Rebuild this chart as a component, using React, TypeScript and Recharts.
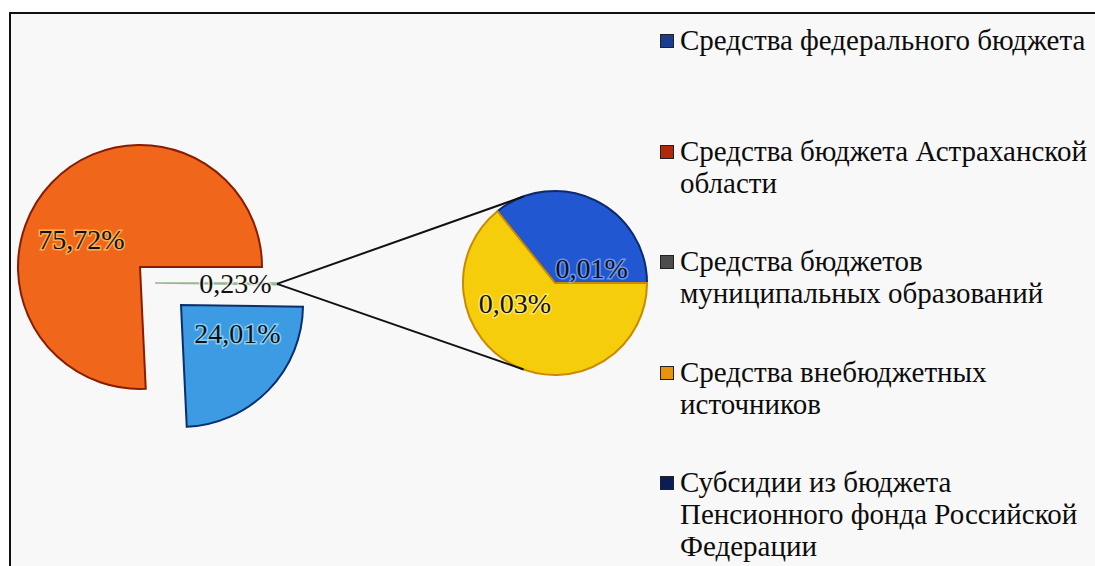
import React from 'react';
import { PieChart, Pie, Cell, Legend } from 'recharts';

// main pie: regional budget, federal budget, the rest (split out in the small pie)
const mainNames = ['Средства бюджета Астраханской области', 'Средства федерального бюджета', 'Прочие'];
const mainValues = [75.72, 24.01, 0.23];
const mainLabels = ['75,72%', '24,01%', '0,23%'];

// small pie (share of "Прочие")
const subNames = ['Средства бюджетов муниципальных образований', 'Средства внебюджетных источников'];
const subValues = [0.0143, 0.0257];
const subLabels = ['0,01%', '0,03%'];

const legendLines = [
  ['Средства федерального бюджета'],
  ['Средства бюджета Астраханской', 'области'],
  ['Средства бюджетов', 'муниципальных образований'],
  ['Средства внебюджетных', 'источников'],
  ['Субсидии из бюджета', 'Пенсионного фонда Российской', 'Федерации'],
];
const legendColors = ['#1c3d8f', '#b3280c', '#4d4d4d', '#e8920e', '#0c1c55'];

const mainData = mainNames.map((name, i) => ({ name, value: mainValues[i] }));
const subData = subNames.map((name, i) => ({ name, value: subValues[i] }));

const mainFill = ['#f0661b', '#3c9be2', '#b9cdb4'];
const mainStroke = ['#8a1c02', '#0a2e6e', '#9ab595'];
const subFill = ['#2257d2', '#f6cd0b'];
const subStroke = ['#0d2a70', '#c98a00'];
const glowMain = ['#ffd060', '#a8e4ff', '#f8f8f8'];
const glowSub = ['#8fb4ff', '#fff08a'];

const MAIN_R = 122;
// exploded slices each get their own centre
const mainCenters = [
  { x: 140, y: 267 },
  { x: 181, y: 305 },
  { x: 155, y: 283 },
];
const SUB = { x: 555, y: 283, r: 92 };
const mainLabelPos = [
  { a: 155, f: 0.53 },
  { a: 333, f: 0.52 },
  { a: 0, f: 0.66 },
];
const subLabelPos = [
  { a: 22, f: 0.43 },
  { a: 207, f: 0.49 },
];

const RAD = Math.PI / 180;
const polar = (cx: number, cy: number, r: number, a: number) => ({
  x: cx + r * Math.cos(-a * RAD),
  y: cy + r * Math.sin(-a * RAD),
});

const font = '"Liberation Serif", "DejaVu Serif", serif';

const labelText = (x: number, y: number, txt: string, glow: string) => (
  <text
    x={x}
    y={y}
    textAnchor="middle"
    dominantBaseline="central"
    fontFamily={font}
    fontSize={28}
    fill="#101010"
    stroke={glow}
    strokeWidth={3}
    strokeOpacity={0.7}
    paintOrder="stroke"
  >
    {txt}
  </text>
);

const makeMainLabel = (k: number) => (p: any) => {
  if (p.index !== k) return null;
  const pos = polar(p.cx, p.cy, p.outerRadius * mainLabelPos[k].f, mainLabelPos[k].a);
  const txt = labelText(pos.x, pos.y, mainLabels[k], glowMain[k]);
  if (k !== 2) return txt;
  // connector lines to the small pie
  const tip = polar(p.cx, p.cy, p.outerRadius, p.midAngle);
  const up = polar(SUB.x, SUB.y, SUB.r, 110);
  const down = polar(SUB.x, SUB.y, SUB.r, 250);
  return (
    <g>
      <line x1={tip.x} y1={tip.y} x2={up.x} y2={up.y} stroke="#111" strokeWidth={2} />
      <line x1={tip.x} y1={tip.y} x2={down.x} y2={down.y} stroke="#111" strokeWidth={2} />
      {txt}
    </g>
  );
};

const subLabel = (p: any) => {
  const lp = subLabelPos[p.index];
  const pos = polar(p.cx, p.cy, p.outerRadius * lp.f, lp.a);
  return labelText(pos.x, pos.y, subLabels[p.index], glowSub[p.index]);
};

const renderLegend = () => (
  <div style={{ position: 'relative', width: 435, height: 540 }}>
    {legendLines.map((lines, i) => (
      <div key={i} style={{ position: 'absolute', left: 0, top: i * 110.5, display: 'flex' }}>
        <div
          style={{
            width: 12,
            height: 12,
            background: legendColors[i],
            border: '1px solid #222',
            marginTop: 10,
            marginRight: 6,
            flexShrink: 0,
          }}
        />
        <div style={{ fontFamily: font, fontSize: 29, lineHeight: '32px', color: '#0c0c0c', whiteSpace: 'nowrap' }}>
          {lines.map((l, j) => (
            <div key={j}>{l}</div>
          ))}
        </div>
      </div>
    ))}
  </div>
);

export default function App() {
  return (
    <div style={{ position: 'fixed', left: 0, top: 0, width: 1095, height: 566, background: '#fff', overflow: 'hidden' }}>
      <div
        style={{
          position: 'absolute',
          left: 9,
          top: 12,
          right: 0,
          bottom: 0,
          borderLeft: '2.5px solid #111',
          borderTop: '2px solid #111',
          background: '#f8f8f8',
        }}
      />
      <div style={{ position: 'absolute', left: 0, top: 0 }}>
        <PieChart width={1095} height={566} margin={{ top: 0, right: 0, bottom: 0, left: 0 }}>
          {mainCenters.map((c, k) => (
            <Pie
              key={k}
              data={mainData}
              dataKey="value"
              cx={c.x}
              cy={c.y}
              outerRadius={MAIN_R}
              startAngle={0}
              endAngle={360}
              isAnimationActive={false}
              labelLine={false}
              label={makeMainLabel(k)}
            >
              {mainData.map((d, i) => (
                <Cell
                  key={d.name}
                  fill={i === k ? mainFill[i] : 'none'}
                  stroke={i === k ? mainStroke[i] : 'none'}
                  strokeWidth={i === 2 ? 1.5 : 2}
                />
              ))}
            </Pie>
          ))}
          <Pie
            data={subData}
            dataKey="value"
            cx={SUB.x}
            cy={SUB.y}
            outerRadius={SUB.r}
            startAngle={0}
            endAngle={360}
            isAnimationActive={false}
            labelLine={false}
            label={subLabel}
          >
            {subData.map((d, i) => (
              <Cell key={d.name} fill={subFill[i]} stroke={subStroke[i]} strokeWidth={2} />
            ))}
          </Pie>
          <Legend
            layout="vertical"
            align="right"
            verticalAlign="middle"
            content={renderLegend}
            wrapperStyle={{ left: 660, top: 24, right: 'auto', width: 435 }}
          />
        </PieChart>
      </div>
    </div>
  );
}
